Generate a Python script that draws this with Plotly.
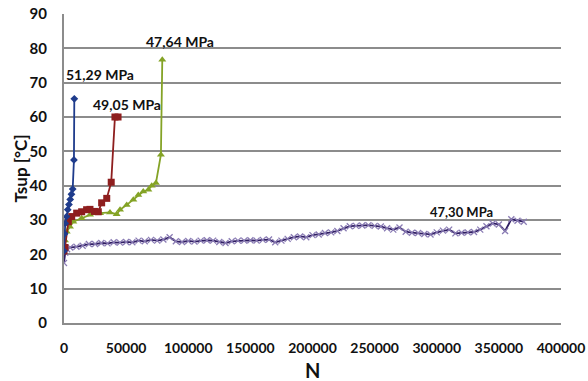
import plotly.graph_objects as go

# Surface temperature versus number of cycles, four stress amplitudes
n_5129 = [0, 500, 1000, 2000, 3000, 4000, 5000, 6000, 7000, 8000, 8300]
t_5129 = [21, 26, 29, 31, 33, 34.5, 36, 37.5, 39, 47.5, 65.3]

n_4905 = [0, 800, 3500, 6200, 10200, 14200, 18200, 20900, 24500, 27600, 30300, 34400, 38000, 41000, 43500]
t_4905 = [21, 22, 29.5, 31, 32, 32.4, 33, 33.1, 32.5, 32.4, 35, 36.3, 41, 60, 60]

n_4764 = [0, 800, 2200, 4800, 7500, 14200, 20900, 29000, 37000, 42400, 45100, 50500,
          55800, 59800, 63800, 67900, 70600, 74000, 78000, 79100]
t_4764 = [22, 24, 26.6, 28, 29.5, 30.5, 31.5, 32, 32.2, 31.7, 33, 34.4,
          35.9, 37.3, 38.3, 38.8, 40, 40.8, 49, 76.7]

n_4730 = [0, 1000, 2500, 5000, 10000, 15000, 20000, 25000, 30000, 35000, 40000, 45000,
          50000, 55000, 60000, 65000, 70000, 75000, 80000, 85000, 90000, 95000,
          100000, 105000, 110000, 115000, 120000, 125000, 130000, 135000, 140000,
          145000, 150000, 155000, 160000, 165000, 170000, 175000, 180000, 185000,
          190000, 195000, 200000, 205000, 210000, 215000, 220000, 225000, 230000,
          235000, 240000, 245000, 250000, 255000, 260000, 265000, 270000, 275000,
          280000, 285000, 290000, 295000, 300000, 305000, 310000, 315000, 320000,
          325000, 330000, 335000, 340000, 345000, 350000, 355000, 360000, 365000, 370000]
t_4730 = [17.5, 20.5, 21.5, 22, 22.2, 22.5, 23, 23, 23.3, 23.2, 23.5, 23.4,
          23.6, 23.5, 24, 23.8, 24.2, 24, 24.3, 25, 23.8, 23.6,
          23.9, 23.7, 24, 24.1, 24, 23.6, 23.3, 23.8, 24,
          24, 24.1, 24, 24.2, 24.3, 23.5, 24, 24.5, 25,
          25.2, 25, 25.6, 25.8, 26.2, 26.4, 26.8, 27.6, 28.2,
          28.3, 28.4, 28.5, 28.3, 28.1, 27.6, 27.2, 27.8, 26.6,
          26.3, 26.2, 25.9, 25.8, 26.4, 26.9, 27.2, 26.1, 26.3,
          26.4, 26.5, 27.2, 28.2, 29, 28.7, 26.8, 30.2, 29.8, 29.5]

labels = ["51,29 MPa", "49,05 MPa", "47,64 MPa", "47,30 MPa"]
label_pos_n = [29000, 50500, 93500, 320000]
label_pos_t = [72.3, 63.6, 81.9, 32.4]
label_sizes = [14, 14, 14, 13]

x_ticks = [0, 50000, 100000, 150000, 200000, 250000, 300000, 350000, 400000]
y_ticks = [0, 10, 20, 30, 40, 50, 60, 70, 80, 90]

FONT = "Lato"
INK = "#111111"

fig = go.Figure()

fig.add_trace(go.Scatter(
    x=n_4730, y=t_4730, mode="lines+markers", name=labels[3],
    line=dict(color="#2f1d62", width=1.8),
    marker=dict(symbol="x-thin", size=6, line=dict(color="#8a7cb4", width=1.3)),
))
fig.add_trace(go.Scatter(
    x=n_4764, y=t_4764, mode="lines+markers", name=labels[2],
    line=dict(color="#84a326", width=1.8),
    marker=dict(symbol="triangle-up", size=7, color="#84a326"),
))
fig.add_trace(go.Scatter(
    x=n_4905, y=t_4905, mode="lines+markers", name=labels[1],
    line=dict(color="#8e1e1e", width=1.8),
    marker=dict(symbol="square", size=7, color="#8e1e1e"),
))
fig.add_trace(go.Scatter(
    x=n_5129, y=t_5129, mode="lines+markers", name=labels[0],
    line=dict(color="#1f3c8c", width=1.8),
    marker=dict(symbol="diamond", size=6, color="#1f3c8c"),
))

for txt, xn, yt, fs in zip(labels, label_pos_n, label_pos_t, label_sizes):
    fig.add_annotation(
        x=xn, y=yt, text=txt, showarrow=False,
        font=dict(family=FONT, size=fs, color=INK, weight="bold"),
    )

# Axis titles placed relative to the plot area
fig.add_annotation(
    xref="paper", yref="paper", x=0.5, y=0, yshift=-47,
    text="N", showarrow=False, yanchor="middle",
    font=dict(family=FONT, size=20, color=INK, weight="bold"),
)
fig.add_annotation(
    xref="paper", yref="paper", x=0, y=0.5, xshift=-44,
    text="Tsup [°C]", showarrow=False, textangle=-90, xanchor="center",
    font=dict(family=FONT, size=17, color=INK, weight="bold"),
)

fig.update_layout(
    width=588, height=381,
    margin=dict(l=64, r=27, t=14, b=58, autoexpand=False),
    paper_bgcolor="white", plot_bgcolor="white",
    showlegend=False,
)
fig.update_xaxes(
    range=[0, 400000], tickvals=x_ticks, ticktext=[str(v) for v in x_ticks],
    showgrid=False, showline=True, linecolor="#8c8c8c", linewidth=2,
    zeroline=False, ticks="", ticklabelstandoff=11, automargin=False,
    tickfont=dict(family=FONT, size=14, color=INK, weight="bold"),
)
fig.update_yaxes(
    range=[0, 90], tickvals=y_ticks,
    showgrid=True, gridcolor="#8c8c8c", gridwidth=1.6,
    showline=True, linecolor="#8c8c8c", linewidth=2,
    zeroline=False, ticks="", ticklabelstandoff=12, automargin=False,
    tickfont=dict(family=FONT, size=15, color=INK, weight="bold"),
)

fig.write_html("out.html")
